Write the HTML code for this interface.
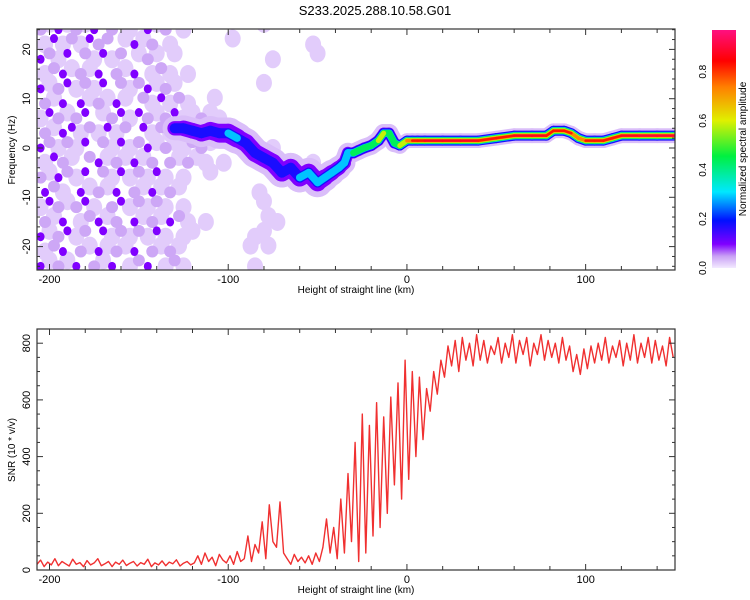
<!DOCTYPE html>
<html><head><meta charset="utf-8"><style>
html,body{margin:0;padding:0;background:#fff;}
svg{display:block;font-family:"Liberation Sans",sans-serif;}
</style></head><body>
<svg id="chart" width="750" height="600" viewBox="0 0 750 600">
<defs>
<linearGradient id="cbar" x1="0" y1="1" x2="0" y2="0">
<stop offset="0" stop-color="#f3eaff"/><stop offset="0.05" stop-color="#c9a0f5"/><stop offset="0.1" stop-color="#8000ff"/>
<stop offset="0.2" stop-color="#0010ff"/><stop offset="0.32" stop-color="#00e8ff"/><stop offset="0.47" stop-color="#00f040"/>
<stop offset="0.62" stop-color="#e0f000"/><stop offset="0.76" stop-color="#ff8000"/><stop offset="0.87" stop-color="#ff0000"/><stop offset="1" stop-color="#ff1080"/>
</linearGradient>
<clipPath id="clipTop"><rect x="37" y="29" width="638" height="241"/></clipPath>
<clipPath id="clipBot"><rect x="37" y="329" width="638" height="241"/></clipPath>
</defs>
<text x="375" y="15" font-size="13" text-anchor="middle">S233.2025.288.10.58.G01</text>
<g id="heat" clip-path="url(#clipTop)"></g>
<g id="snr" clip-path="url(#clipBot)"></g>
<g id="axes"></g>
<rect x="712" y="30" width="24" height="238" fill="url(#cbar)"/>
<g id="cbticks"></g>
<text transform="translate(746,149) rotate(-90)" font-size="10" text-anchor="middle">Normalized spectral amplitude</text>
<text transform="translate(15,150) rotate(-90)" font-size="10" text-anchor="middle">Frequency (Hz)</text>
<text x="356" y="293" font-size="10" text-anchor="middle">Height of straight line (km)</text>
<text transform="translate(15,450) rotate(-90)" font-size="10" text-anchor="middle">SNR (10 * v/v)</text>
<text x="356" y="593" font-size="10" text-anchor="middle">Height of straight line (km)</text>
</svg>
<script>
const xTicks=[-200,-100,0,100];
const fTicks=[20,10,0,-10,-20];
const snrTicks=[0,200,400,600,800];
const cbTicks=[0.0,0.2,0.4,0.6,0.8];
const ridgeX=[-130,-125,-120,-115,-110,-105,-100,-95,-90,-85,-80,-75,-70,-65,-60,-55,-50,-46,-42,-38,-35,-33,-30,-27,-24,-20,-16,-13,-10,-7,-4,0,3,6,10,20,30,40,50,60,70,78,82,88,92,96,100,105,110,115,120,130,140,150];
const ridgeF=[4,4,3.5,3,3.5,3,3,2,1,-1,-2,-3,-5,-4,-6,-5,-7,-6,-5,-4,-3,-1,-1,-0.5,0,0.5,1.5,3,3,1,0.5,1.5,1.5,1.5,1.5,1.5,1.5,1.5,2,2.5,2.5,2.5,3.5,3.5,3,2,1.5,1.5,1.5,2,2.5,2.5,2.5,2.5];
const ridgeA=[0.2,0.25,0.25,0.2,0.25,0.25,0.3,0.3,0.25,0.3,0.25,0.25,0.3,0.25,0.3,0.3,0.35,0.3,0.3,0.3,0.35,0.4,0.5,0.6,0.55,0.55,0.6,0.6,0.55,0.5,0.7,0.8,0.85,0.85,0.9,0.9,0.92,0.9,0.85,0.9,0.92,0.9,0.85,0.92,0.85,0.8,0.9,0.85,0.9,0.85,0.9,0.92,0.92,0.92];
const ridgeW=[3,3.5,3.5,3.5,4,4,4.5,4,4,4,4,4,4,4,4,4,4,3.5,3.5,3,3,2.5,2.5,2.5,2.5,2.5,2.5,2.5,2.5,2.5,2,2,2,2,2,2,2,2,2,2,2,2,2,2,2,2,2,2,2,2,2,2,2,2];
const noiseX0=-205, noiseDX=5, noiseF0=24, noiseDF=-3;
const noiseRows=[
"213121302210312010000000010000000000",
"131213220131201000000100000000100000",
"321302131201210100000000001000010000",
"123121302130121010000000000000000000",
"312312130212312100000000010000000000",
"213031213102131210010000000000000000",
"132123012313212311211000000000000000",
"213312131203121213122100000000000000",
"321213021312312112210000001000000000",
"132102312131202121101000000000100000",
"213213021312131010010000000000000000",
"321031213021312100000000100000000000",
"132123102312121010000000010000000000",
"213012312031213210100000011000000000",
"312312031212131011000000110000000000",
"123021312130212100000001010000000000",
"312130213012301210000000100000000000"];
const snrX0=-207, snrDX=2;
const snrVals=[20,35,12,28,18,40,15,30,22,14,38,20,26,12,33,18,25,40,15,22,30,12,28,20,35,16,24,30,14,26,20,38,12,25,18,32,15,28,22,36,14,24,30,18,
25,50,20,60,30,45,15,55,35,25,50,20,65,30,40,
120,30,90,60,170,40,230,100,80,240,60,
40,20,55,30,45,25,50,20,60,
30,80,180,60,150,40,
250,60,340,100,450,30,550,60,510,
120,590,150,540,200,610,300,660,250,740,
320,700,400,680,460,640,560,700,620,740,
680,790,720,810,700,820,740,800,720,830,740,810,730,790,760,820,730,800,750,830,730,810,760,820,720,800,760,830,740,810,750,800,730,820,740,790,700,760,690,780,710,790,730,800,740,820,730,790,750,810,720,800,740,830,730,800,750,820,730,810,740,790,720,820,750];

const NS='http://www.w3.org/2000/svg';
const xs=k=>37+(k+207)*(638/357);
const fy=f=>148-f*4.93;
const sy=v=>570-v*0.2835;
const cy=v=>268-v*(238/0.97);
function mk(tag,attrs,parent){const e=document.createElementNS(NS,tag);for(const k in attrs)e.setAttribute(k,attrs[k]);parent.appendChild(e);return e;}
const stops=[[0,[243,234,255]],[0.05,[201,160,245]],[0.1,[128,0,255]],[0.2,[0,16,255]],[0.32,[0,232,255]],[0.47,[0,240,64]],[0.62,[224,240,0]],[0.76,[255,128,0]],[0.87,[255,0,0]],[1,[255,16,128]]];
function cmap(v){for(let i=1;i<stops.length;i++){if(v<=stops[i][0]){const a=stops[i-1],b=stops[i],t=(v-a[0])/(b[0]-a[0]);const c=a[1].map((q,j)=>Math.round(q+(b[1][j]-q)*t));return `rgb(${c})`;}}return 'rgb(255,16,128)';}

// heatmap noise
const heat=document.getElementById('heat');
const lvlAmp=[0,0.02,0.045,0.1];
const lvlRx=[0,8,6,4], lvlRy=[0,9,6,4.5];
for(let pass=1;pass<=3;pass++){
noiseRows.forEach((row,r)=>{
  for(let c=0;c<row.length;c++){
    const l=+row[c]; if(l!==pass) continue;
    const xo=(r%2)*2.5, yo=(c%2)*1.2;
    const e=mk('ellipse',{cx:xs(noiseX0+c*noiseDX+xo),cy:fy(noiseF0+r*noiseDF+yo),rx:lvlRx[l],ry:lvlRy[l],fill:cmap(lvlAmp[l])},heat);
    
    
  }
});
}
// ridge layers
const layers=[[0.03,1.0],[0.1,0.6],[0.18,10],[0.3,7.5],[0.45,6.5],[0.6,5],[0.75,3.5],[0.85,2.5]];
layers.forEach(([lv,w],li)=>{
  for(let i=0;i<ridgeX.length-1;i++){
    const a=Math.min(ridgeA[i],ridgeA[i+1]);
    if(a<lv) continue;
    const wpx=li<2? w*(ridgeW[i]+ridgeW[i+1])*4.93*0.75 : w;
    const s=mk('line',{x1:xs(ridgeX[i]),y1:fy(ridgeF[i]),x2:xs(ridgeX[i+1]),y2:fy(ridgeF[i+1]),stroke:cmap(li===layers.length-1?a:lv),'stroke-width':wpx,'stroke-linecap':'round'},heat);
    
    
  }
});
// snr
const snr=document.getElementById('snr');
const pts=snrVals.map((v,i)=>xs(snrX0+i*snrDX).toFixed(1)+','+sy(v).toFixed(1)).join(' ');
const pl=mk('polyline',{points:pts,fill:'none',stroke:'#f03030','stroke-width':1.4,'stroke-linejoin':'round'},snr);



// axes
const ax=document.getElementById('axes');
function frame(y0,y1,name){
  const r=mk('rect',{x:37,y:y0,width:638,height:y1-y0,fill:'none',stroke:'#333','stroke-width':1.2},ax);
  
  
  for(let k=-200;k<=140;k+=20){
    const len=(k%100===0)?6:4;
    mk('line',{x1:xs(k),x2:xs(k),y1:y0,y2:y0+len,stroke:'#333'},ax);
    mk('line',{x1:xs(k),x2:xs(k),y1:y1,y2:y1-len,stroke:'#333'},ax);
  }
  xTicks.forEach(k=>{const t=mk('text',{x:xs(k),y:y1+13,'font-size':11,'text-anchor':'middle'},ax);t.textContent=k;
    });
}
frame(29,270,'top-plot-frame');
frame(329,570,'bottom-plot-frame');
for(let f=-24;f<=24;f+=2){const len=f%10===0?6:3;
  mk('line',{x1:37,x2:37+len,y1:fy(f),y2:fy(f),stroke:'#333'},ax);
  mk('line',{x1:675,x2:675-len,y1:fy(f),y2:fy(f),stroke:'#333'},ax);}
fTicks.forEach(f=>{const t=mk('text',{transform:`translate(30,${fy(f)}) rotate(-90)`,'font-size':11,'text-anchor':'middle'},ax);t.textContent=f;
  });
for(let v=0;v<=850;v+=50){const len=v%200===0?6:3;
  mk('line',{x1:37,x2:37+len,y1:sy(v),y2:sy(v),stroke:'#333'},ax);
  mk('line',{x1:675,x2:675-len,y1:sy(v),y2:sy(v),stroke:'#333'},ax);}
snrTicks.forEach(v=>{const t=mk('text',{transform:`translate(30,${sy(v)}) rotate(-90)`,'font-size':11,'text-anchor':'middle'},ax);t.textContent=v;
  });
const cb=document.getElementById('cbticks');
cbTicks.forEach(v=>{const t=mk('text',{transform:`translate(706,${cy(v)}) rotate(-90)`,'font-size':10,'text-anchor':'middle'},cb);t.textContent=v.toFixed(1);
  });
</script>
</body></html>
